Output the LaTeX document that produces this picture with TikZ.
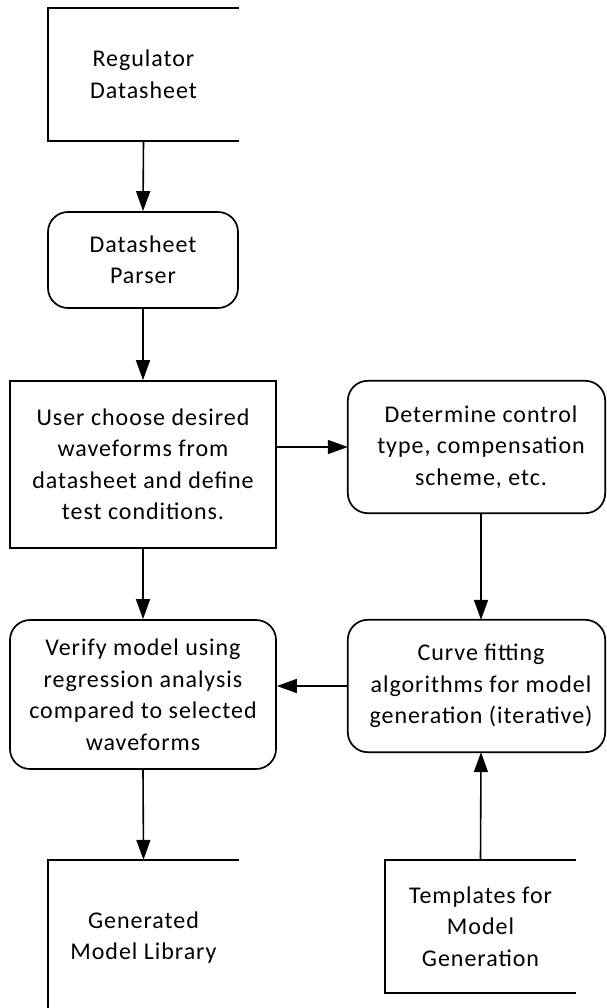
\documentclass[tikz,border=0pt]{standalone}
\usepackage{fontspec}
\setmainfont{Carlito}[LetterSpace=4]
\usetikzlibrary{arrows.meta,calc}
\begin{document}
\begin{tikzpicture}[x=1pt,y=-1pt,
  outline/.style={draw=black,line width=1.7pt},
  txt/.style={align=center,inner sep=0pt,font=\fontsize{24}{31.5}\selectfont},
  box/.style={txt,outline},
  rbox/.style={box,rounded corners=20pt},
  arr/.style={line width=1.6pt,-{Triangle[length=20pt,width=14pt]}}]
\clip (0,0) rectangle (606,1008);
\fill[white] (0,0) rectangle (606,1008);
% Regulator datasheet (open on the right)
\node[txt,minimum width=191pt,minimum height=133pt] (reg) at (143.5,74.5) {Regulator\\Datasheet};
\draw[outline] (reg.north east) -- (reg.north west) -- (reg.south west) -- (reg.south east);
% Datasheet parser
\node[rbox,minimum width=190pt,minimum height=96pt] (par) at (143,260) {Datasheet\\Parser};
% User box
\node[box,minimum width=266pt,minimum height=167pt] (user) at (143,464.5) {User choose desired\\waveforms from\\datasheet and define\\test conditions.};
% Determine box
\node[txt,minimum width=266pt,minimum height=132pt] (det) at (481,447) {Determine control\\type, compensation\\scheme, etc.};
\draw[outline,rounded corners=20pt] (det.north west) rectangle ($(det.south east)+(-9,0)$);
% Curve fitting box
\node[txt,minimum width=266pt,minimum height=132pt] (cur) at (481,686) {Curve fitting\\algorithms for model\\generation (iterative)};
\draw[outline,rounded corners=20pt] (cur.north west) rectangle ($(cur.south east)+(-9,0)$);
% Verify box
\node[rbox,minimum width=266pt,minimum height=149pt] (ver) at (143,694.5) {Verify model using\\regression analysis\\compared to selected\\waveforms};
% Generated model library (open)
\node[txt,minimum width=191pt,minimum height=155pt] (gen) at (143.5,937.5) {Generated\\Model Library};
\draw[outline] (gen.north east) -- (gen.north west) -- (gen.south west);
% Templates (open on the right)
\node[txt,minimum width=191pt,minimum height=133pt] (tem) at (480.5,926.5) {Templates for\\Model\\Generation};
\draw[outline] (tem.north east) -- (tem.north west) -- (tem.south west) -- (tem.south east);
% connectors
\draw[arr] (reg.south) -- (par.north);
\draw[arr] (par.south) -- (user.north);
\draw[arr] (user.south) -- (ver.north);
\draw[arr] (ver.south) -- (gen.north);
\draw[arr] (user.east |- det.west) -- (det.west);
\draw[arr] (det.south) -- (cur.north);
\draw[arr] (cur.west) -- (cur.west -| ver.east);
\draw[arr] (tem.north) -- (cur.south);
\end{tikzpicture}
\end{document}
